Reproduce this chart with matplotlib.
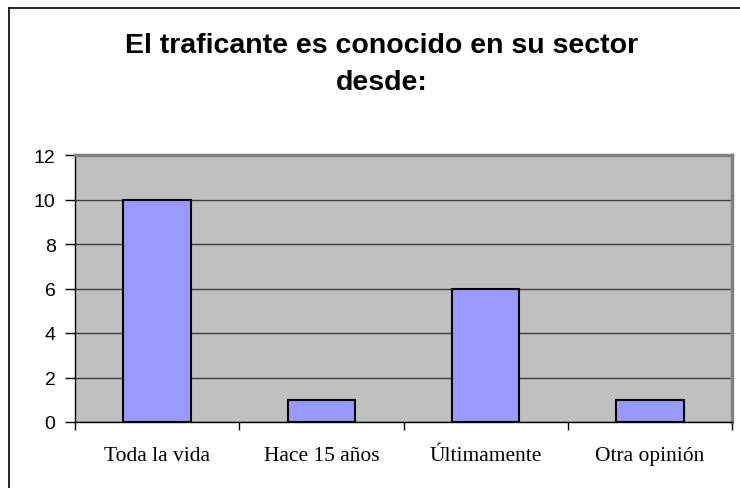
import matplotlib.pyplot as plt
from matplotlib.lines import Line2D

# data
categories = ['Toda la vida', 'Hace 15 años', 'Últimamente', 'Otra opinión']
values = [10, 1, 6, 1]
yticks = [0, 2, 4, 6, 8, 10, 12]
title_lines = ['El traficante es conocido en su sector', 'desde:']

fig = plt.figure(figsize=(7.4, 4.89), dpi=100)
fig.patch.set_facecolor('white')

# outer frame (top and left edges only visible)
fig.add_artist(Line2D([9 / 740, 1], [1 - 9 / 489, 1 - 9 / 489], color='black', lw=1.2))
fig.add_artist(Line2D([9 / 740, 9 / 740], [0, 1 - 9 / 489], color='black', lw=1.2))

ax = fig.add_axes([75 / 740, 66 / 489, 657 / 740, 267 / 489])
ax.set_facecolor('#C0C0C0')

x = list(range(len(categories)))
ax.bar(x, values, width=0.41, color='#9999FF', edgecolor='black', linewidth=1.5, zorder=3)

ax.set_xlim(-0.5, len(categories) - 0.5)
ax.set_ylim(0, 12)
ax.set_yticks(yticks)
ax.set_yticklabels([str(v) for v in yticks], fontfamily='Liberation Sans', fontsize=14)
ax.yaxis.grid(True, color='#404040', lw=1.0, zorder=1)

# category labels centered, ticks at boundaries
ax.set_xticks(x)
ax.set_xticklabels(categories, fontfamily='Liberation Serif', fontsize=15.5)
ax.tick_params(axis='x', length=0, pad=17)
ax.set_xticks([i - 0.5 for i in range(len(categories) + 1)], minor=True)
ax.tick_params(axis='x', which='minor', length=6, width=1, direction='out')
ax.tick_params(axis='y', length=7, width=1, direction='out', pad=7)

for side in ['left', 'bottom']:
    ax.spines[side].set_color('black')
    ax.spines[side].set_linewidth(1)
for side in ['top', 'right']:
    ax.spines[side].set_color('#808080')
    ax.spines[side].set_linewidth(2.5)

# two-line title, placed by baseline
for line, base_y in zip(title_lines, [53, 90]):
    fig.text(382 / 740, 1 - base_y / 489, line, ha='center', va='baseline',
             fontfamily='Liberation Sans', fontweight='bold', fontsize=20.5)

fig.savefig('out.png', dpi=100)
